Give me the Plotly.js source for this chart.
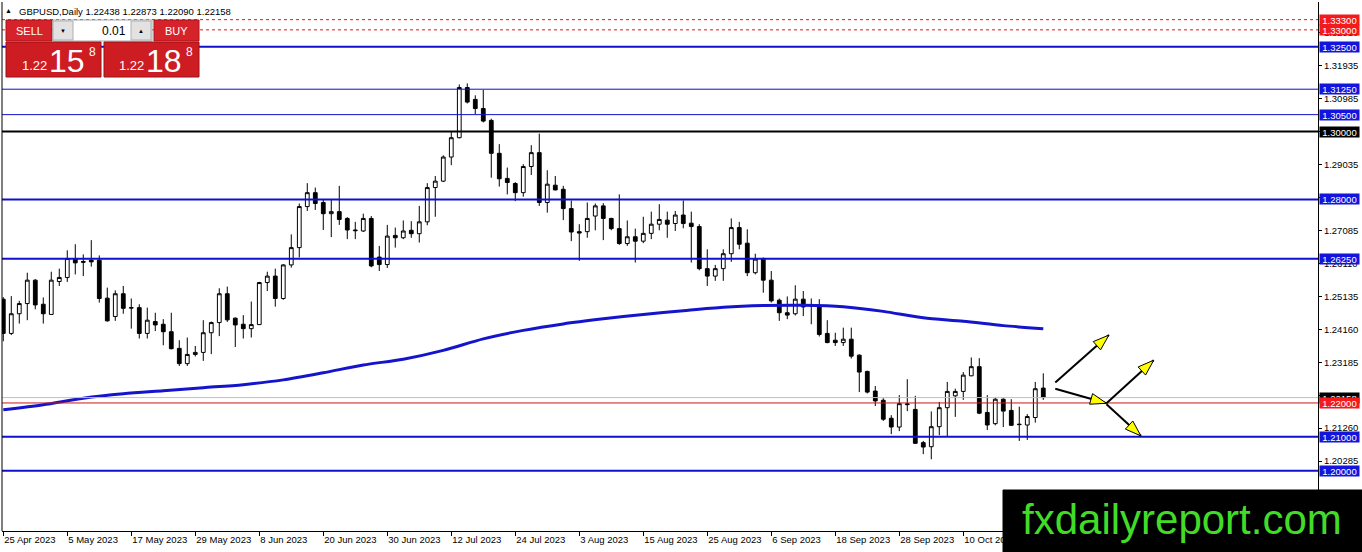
<!DOCTYPE html>
<html>
<head>
<meta charset="utf-8">
<script src="https://cdn.plot.ly/plotly-3.0.1.min.js"></script>
<style>
  html, body { margin: 0; padding: 0; background: #ffffff; }
  #chart { width: 1362px; height: 552px; }
</style>
</head>
<body>
<div id="chart"></div>
<script>
// GBPUSD daily candles, one entry per trading day from 25 Apr 2023 to 24 Oct 2023.
const opens = [
  1.2506, 1.2405, 1.2463, 1.2493, 1.2562, 1.2491, 1.2461, 1.2558, 1.2570, 1.2624,
  1.2617, 1.2621, 1.2621, 1.2509, 1.2455, 1.2522, 1.2481, 1.2481, 1.2405, 1.2440,
  1.2432, 1.2410, 1.2361, 1.2316, 1.2343, 1.2349, 1.2407, 1.2437, 1.2522, 1.2450,
  1.2432, 1.2419, 1.2431, 1.2555, 1.2574, 1.2508, 1.2607, 1.2658, 1.2779, 1.2820,
  1.2791, 1.2758, 1.2764, 1.2744, 1.2710, 1.2707, 1.2744, 1.2630, 1.2608, 1.2694,
  1.2687, 1.2709, 1.2699, 1.2734, 1.2835, 1.2854, 1.2925, 1.2982, 1.3130, 1.3095,
  1.3068, 1.3033, 1.2936, 1.2862, 1.2847, 1.2820, 1.2897, 1.2938, 1.2791, 1.2842,
  1.2830, 1.2773, 1.2705, 1.2705, 1.2751, 1.2781, 1.2744, 1.2714, 1.2670, 1.2690,
  1.2677, 1.2700, 1.2727, 1.2739, 1.2729, 1.2754, 1.2730, 1.2720, 1.2596, 1.2574,
  1.2596, 1.2640, 1.2717, 1.2671, 1.2584, 1.2624, 1.2562, 1.2503, 1.2466, 1.2463,
  1.2506, 1.2486, 1.2486, 1.2405, 1.2385, 1.2378, 1.2388, 1.2341, 1.2293, 1.2235,
  1.2208, 1.2155, 1.2129, 1.2195, 1.2181, 1.2083, 1.2071, 1.2130, 1.2186, 1.2221,
  1.2234, 1.2280, 1.2307, 1.2172, 1.2139, 1.2211, 1.2178, 1.2136, 1.2135, 1.2157,
  1.22438
];
const highs = [
  1.2512, 1.2515, 1.2501, 1.2584, 1.2565, 1.2511, 1.2587, 1.2596, 1.2650, 1.2668,
  1.2638, 1.2680, 1.2635, 1.2540, 1.2532, 1.2545, 1.2508, 1.2491, 1.2481, 1.2466,
  1.2447, 1.2466, 1.2385, 1.2393, 1.2368, 1.2444, 1.2440, 1.2538, 1.2543, 1.2452,
  1.2459, 1.2499, 1.2557, 1.2587, 1.2596, 1.2609, 1.2697, 1.2788, 1.2848, 1.2835,
  1.2800, 1.2800, 1.2840, 1.2748, 1.2734, 1.2758, 1.2751, 1.2663, 1.2725, 1.2717,
  1.2738, 1.2736, 1.2781, 1.2848, 1.2869, 1.2930, 1.3002, 1.3139, 1.3142, 1.3107,
  1.3123, 1.3038, 1.2963, 1.2894, 1.2851, 1.2904, 1.2960, 1.2994, 1.2886, 1.2869,
  1.2840, 1.2797, 1.2727, 1.2791, 1.2788, 1.2789, 1.2746, 1.2815, 1.2738, 1.2714,
  1.2749, 1.2764, 1.2786, 1.2764, 1.2766, 1.2797, 1.2764, 1.2727, 1.2653, 1.2607,
  1.2653, 1.2744, 1.2734, 1.2712, 1.2640, 1.2629, 1.2589, 1.2508, 1.2514, 1.2547,
  1.2530, 1.2508, 1.2506, 1.2444, 1.2407, 1.2422, 1.2422, 1.2343, 1.2295, 1.2250,
  1.2214, 1.2164, 1.2223, 1.2270, 1.2221, 1.2088, 1.2175, 1.2203, 1.2262, 1.2242,
  1.2291, 1.2334, 1.2332, 1.2223, 1.2216, 1.2214, 1.2211, 1.2189, 1.2167, 1.2262,
  1.22873
];
const lows = [
  1.2382, 1.2400, 1.2434, 1.2444, 1.2476, 1.2434, 1.2461, 1.2545, 1.2557, 1.2579,
  1.2574, 1.2602, 1.2496, 1.2440, 1.2442, 1.2463, 1.2419, 1.2390, 1.2390, 1.2412,
  1.2370, 1.2358, 1.2309, 1.2309, 1.2337, 1.2324, 1.2344, 1.2397, 1.2439, 1.2365,
  1.2390, 1.2393, 1.2430, 1.2530, 1.2484, 1.2504, 1.2599, 1.2629, 1.2766, 1.2769,
  1.2710, 1.2689, 1.2725, 1.2683, 1.2683, 1.2704, 1.2600, 1.2589, 1.2598, 1.2658,
  1.2683, 1.2687, 1.2673, 1.2724, 1.2749, 1.2851, 1.2901, 1.2980, 1.3083, 1.3051,
  1.3027, 1.2864, 1.2838, 1.2815, 1.2795, 1.2808, 1.2872, 1.2781, 1.2761, 1.2827,
  1.2739, 1.2677, 1.2619, 1.2687, 1.2709, 1.2680, 1.2709, 1.2666, 1.2663, 1.2614,
  1.2671, 1.2683, 1.2709, 1.2687, 1.2707, 1.2715, 1.2614, 1.2591, 1.2545, 1.2560,
  1.2560, 1.2616, 1.2653, 1.2574, 1.2579, 1.2525, 1.2496, 1.2442, 1.2447, 1.2458,
  1.2456, 1.2432, 1.2396, 1.2376, 1.2368, 1.2368, 1.2331, 1.2232, 1.2228, 1.2191,
  1.2147, 1.2108, 1.2117, 1.2176, 1.2080, 1.2049, 1.2034, 1.2105, 1.2100, 1.2159,
  1.2209, 1.2279, 1.2167, 1.2120, 1.2134, 1.2129, 1.2132, 1.2088, 1.2091, 1.2142,
  1.22090
];
const closes = [
  1.2405, 1.2463, 1.2493, 1.2562, 1.2489, 1.2463, 1.2562, 1.2570, 1.2626, 1.2613,
  1.2615, 1.2616, 1.2508, 1.2442, 1.2522, 1.2479, 1.2480, 1.2405, 1.2444, 1.2430,
  1.2410, 1.2360, 1.2316, 1.2343, 1.2349, 1.2407, 1.2437, 1.2522, 1.2445, 1.2430,
  1.2419, 1.2431, 1.2555, 1.2574, 1.2508, 1.2607, 1.2658, 1.2779, 1.2820, 1.2788,
  1.2758, 1.2764, 1.2741, 1.2710, 1.2708, 1.2744, 1.2604, 1.2608, 1.2692, 1.2687,
  1.2707, 1.2699, 1.2734, 1.2835, 1.2854, 1.2925, 1.2982, 1.3130, 1.3087, 1.3068,
  1.3031, 1.2936, 1.2861, 1.2850, 1.2820, 1.2897, 1.2938, 1.2791, 1.2845, 1.2828,
  1.2773, 1.2704, 1.2701, 1.2744, 1.2781, 1.2744, 1.2714, 1.2670, 1.2690, 1.2677,
  1.2700, 1.2727, 1.2741, 1.2727, 1.2754, 1.2729, 1.2720, 1.2596, 1.2574, 1.2596,
  1.2640, 1.2717, 1.2668, 1.2584, 1.2624, 1.2562, 1.2501, 1.2466, 1.2459, 1.2506,
  1.2483, 1.2487, 1.2402, 1.2378, 1.2378, 1.2388, 1.2338, 1.2291, 1.2232, 1.2206,
  1.2152, 1.2129, 1.2198, 1.2197, 1.2081, 1.2070, 1.2130, 1.2186, 1.2234, 1.2234,
  1.2282, 1.2307, 1.2170, 1.2135, 1.2211, 1.2176, 1.2134, 1.2137, 1.2160, 1.2242,
  1.22158
];

// moving average, read every 5 bars
const maIndex = [0, 5, 10, 15, 20, 25, 30, 35, 40, 45, 50, 55, 60, 65, 70, 75, 80, 85, 90, 95, 100, 105, 110, 115, 120, 125, 130];
const maValues = [
  1.2180, 1.2195, 1.2214, 1.2227, 1.2236, 1.2245, 1.2254, 1.2268, 1.2289, 1.2312,
  1.2329, 1.2355, 1.2389, 1.2414, 1.2433, 1.2448, 1.2461, 1.2472, 1.2482, 1.2487,
  1.2488, 1.2484, 1.2470, 1.2451, 1.2441, 1.2428, 1.2419
];

const dateTickIndex = [0, 8, 16, 24, 32, 40, 48, 56, 64, 72, 80, 88, 96, 104, 112, 120];
const dateTickText = [
  "25 Apr 2023", "5 May 2023", "17 May 2023", "29 May 2023", "8 Jun 2023", "20 Jun 2023",
  "30 Jun 2023", "12 Jul 2023", "24 Jul 2023", "3 Aug 2023", "15 Aug 2023", "25 Aug 2023",
  "6 Sep 2023", "18 Sep 2023", "28 Sep 2023", "10 Oct 2023"
];

const priceTicks = [1.32910, 1.31935, 1.30985, 1.30010, 1.29035, 1.28060, 1.27085, 1.26110,
  1.25135, 1.24160, 1.23185, 1.22210, 1.21260, 1.20285];

// horizontal levels drawn on the chart
const levelPrices = [1.333, 1.330, 1.325, 1.3125, 1.305, 1.300, 1.280, 1.2625, 1.220, 1.210, 1.200];
const levelKinds = ["dashed", "dashed", "major", "minor", "minor", "round", "major", "major", "pivot", "major", "major"];

const quoteHeader = "GBPUSD,Daily 1.22438 1.22873 1.22090 1.22158";
const lastPrice = 1.22158;
const sellQuote = { big: "1.22", pips: "15", frac: "8" };
const buyQuote = { big: "1.22", pips: "18", frac: "8" };
const lotSize = "0.01";

// forecast arrows: [bar from, price from, bar to, price to]
const arrows = [
  [131.5, 1.2260, 138.2, 1.2400],
  [131.5, 1.2242, 137.9, 1.2199],
  [137.9, 1.2199, 143.8, 1.2326],
  [137.9, 1.2196, 142.2, 1.2103],
];

const LEVEL_STYLE = {
  dashed: { color: "#e41414", width: 1, dash: "3px,3px", label: "#f21a1a" },
  major:  { color: "#1010cc", width: 2, dash: "solid", label: "#1414dc" },
  minor:  { color: "#1010cc", width: 1, dash: "solid", label: "#1414dc" },
  round:  { color: "#000000", width: 2, dash: "solid", label: "#000000" },
  pivot:  { color: "#cc1616", width: 1, dash: "solid", label: "#f21a1a" },
};

const FONT = "Liberation Sans, Arial, sans-serif";
const M = { l: 2, r: 44, t: 2, b: 21 };
const W = 1362 - M.l - M.r, H = 552 - M.t - M.b;
const xRange = [-0.16, 164.34];
const yRange = [1.18225, 1.33821];

// pixel helpers for the overlay widgets (paper coordinates)
const px = x => (x - M.l) / W;
const py = y => 1 - (y - M.t) / H;

function rect(x0, y0, x1, y1, fill, line) {
    return {
        type: "rect", xref: "paper", yref: "paper", layer: "above",
        x0: px(x0), x1: px(x1), y0: py(y1), y1: py(y0),
        fillcolor: fill, line: { color: line || fill, width: 1 },
    };
}

function note(text, x, y, size, color, anchor) {
    return {
        xref: "paper", yref: "paper", x: px(x), y: py(y), text, showarrow: false,
        xanchor: anchor || "center", yanchor: "middle",
        font: { family: FONT, size, color },
    };
}

const barIndex = closes.map((_, i) => i);

const traces = [
    {
        type: "candlestick",
        x: barIndex, open: opens, high: highs, low: lows, close: closes,
        increasing: { line: { color: "#000000", width: 1 }, fillcolor: "#ffffff" },
        decreasing: { line: { color: "#000000", width: 1 }, fillcolor: "#000000" },
        whiskerwidth: 0,
        hoverinfo: "skip",
    },
    {
        type: "scatter", mode: "lines",
        x: maIndex, y: maValues,
        line: { color: "#1414cc", width: 3, shape: "spline", smoothing: 0.8 },
        hoverinfo: "skip",
    },
];

const shapes = [];
const annotations = [];

// level lines and their price boxes on the scale
levelPrices.forEach((p, i) => {
    const st = LEVEL_STYLE[levelKinds[i]];
    shapes.push({
        type: "line", xref: "paper", yref: "y", layer: "above",
        x0: 0, x1: 1, y0: p, y1: p,
        line: { color: st.color, width: st.width, dash: st.dash },
    });
});
shapes.push({
    type: "line", xref: "paper", yref: "y", layer: "above",
    x0: 0, x1: 1, y0: lastPrice, y1: lastPrice,
    line: { color: "#c0c0c0", width: 1 },
});

function priceBox(p, bg) {
    return {
        xref: "paper", yref: "y", x: px(1319), y: p, xanchor: "left", yanchor: "middle",
        text: p.toFixed(5), showarrow: false, bgcolor: bg, borderpad: 0,
        width: 39, height: 10, align: "center",
        font: { family: FONT, size: 9.5, color: "#ffffff" },
    };
}
annotations.push(priceBox(lastPrice, "#000000"));
levelPrices.forEach((p, i) => annotations.push(priceBox(p, LEVEL_STYLE[levelKinds[i]].label)));

// forecast arrows: black shaft with yellow head
const pxPerBar = W / (xRange[1] - xRange[0]);
const pxPerPrice = H / (yRange[1] - yRange[0]);
arrows.forEach(([t0, p0, t1, p1]) => {
    const dx = (t1 - t0) * pxPerBar, dy = (p1 - p0) * pxPerPrice;
    const len = Math.hypot(dx, dy), ux = dx / len, uy = dy / len;
    const hl = 16, hw = 5.5, bx = -ux * hl, by = -uy * hl;
    shapes.push({
        type: "line", xref: "x", yref: "y", layer: "above",
        x0: t0, y0: p0, x1: t1, y1: p1, line: { color: "#000000", width: 2 },
    });
    shapes.push({
        type: "path", xref: "x", yref: "y", layer: "above",
        xsizemode: "pixel", ysizemode: "pixel", xanchor: t1, yanchor: p1,
        path: `M0,0L${(bx - uy * hw).toFixed(2)},${(by + ux * hw).toFixed(2)}` +
              `L${(bx + uy * hw).toFixed(2)},${(by - ux * hw).toFixed(2)}Z`,
        fillcolor: "#ffff00", line: { color: "#000000", width: 1 },
    });
});

// left frame
shapes.push({
    type: "line", xref: "paper", yref: "paper", layer: "above",
    x0: 0, x1: 0, y0: 0, y1: 1, line: { color: "#000000", width: 1 },
});

// one-click trading panel
shapes.push(rect(6, 20, 52, 41, "#d6222a", "#a81419"));
shapes.push(rect(53, 20, 152, 41, "#ffffff", "#a8a8a8"));
shapes.push(rect(53, 21, 73, 40, "#e2e2e2", "#b0b0b0"));
shapes.push(rect(131, 21, 151, 40, "#e2e2e2", "#b0b0b0"));
shapes.push(rect(154, 20, 199, 41, "#d6222a", "#a81419"));
shapes.push(rect(6, 42, 101, 77, "#cd1c22", "#9c1014"));
shapes.push(rect(104, 42, 199, 77, "#cd1c22", "#9c1014"));

annotations.push(note("▲", 8, 10, 7, "#000000"));
annotations.push(note(quoteHeader, 17, 11, 9.5, "#000000", "left"));
annotations.push(note("SELL", 29, 31, 11, "#ffffff"));
annotations.push(note("BUY", 176.5, 31, 11, "#ffffff"));
annotations.push(note("▼", 63, 31, 6, "#000000"));
annotations.push(note("▲", 141, 31, 6, "#000000"));
annotations.push(note(lotSize, 128, 31, 12, "#000000", "right"));
annotations.push(note(sellQuote.big, 20, 65, 13, "#ffffff", "left"));
annotations.push(note(sellQuote.pips, 47, 61, 32, "#ffffff", "left"));
annotations.push(note(sellQuote.frac, 87, 52, 12, "#ffffff", "left"));
annotations.push(note(buyQuote.big, 117, 65, 13, "#ffffff", "left"));
annotations.push(note(buyQuote.pips, 144, 61, 32, "#ffffff", "left"));
annotations.push(note(buyQuote.frac, 184, 52, 12, "#ffffff", "left"));

// watermark
shapes.push(rect(1003, 490, 1364, 554, "#000000"));
annotations.push(note("fxdailyreport.com", 1020, 519, 42, "#42dc28", "left"));

const layout = {
    width: 1362, height: 552,
    margin: M,
    paper_bgcolor: "#ffffff",
    plot_bgcolor: "#ffffff",
    showlegend: false,
    boxgap: 0.33,
    font: { family: FONT, size: 9.5, color: "#000000" },
    xaxis: {
        type: "linear",
        range: xRange,
        rangeslider: { visible: false },
        showgrid: false, zeroline: false,
        showline: true, linecolor: "#000000", linewidth: 1,
        ticks: "outside", ticklen: 4, tickcolor: "#000000",
        tickvals: dateTickIndex, ticktext: dateTickText,
        ticklabelposition: "outside right",
        tickfont: { family: FONT, size: 9.5, color: "#000000" },
    },
    yaxis: {
        side: "right",
        range: yRange,
        showgrid: false, zeroline: false,
        showline: true, linecolor: "#000000", linewidth: 1,
        ticks: "outside", ticklen: 3, tickcolor: "#000000",
        tickvals: priceTicks, ticktext: priceTicks.map(v => v.toFixed(5)),
        tickfont: { family: FONT, size: 9.5, color: "#000000" },
    },
    shapes,
    annotations,
};

Plotly.newPlot("chart", traces, layout, { staticPlot: true, displayModeBar: false });
</script>
</body>
</html>
